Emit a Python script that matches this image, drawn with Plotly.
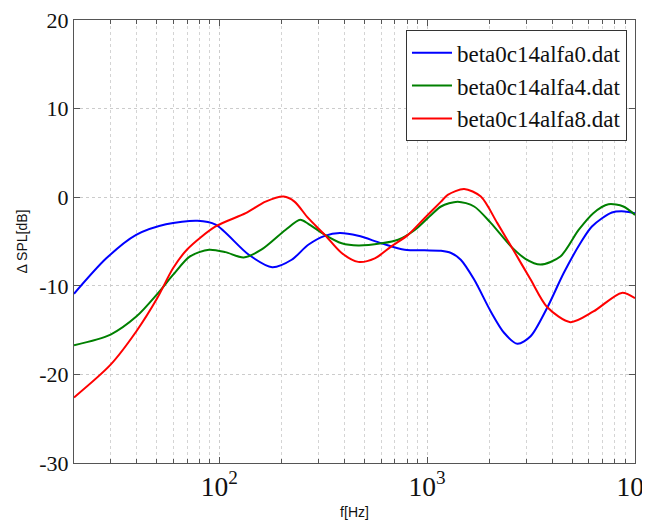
import plotly.graph_objects as go

freq_a0 = [20, 28.6, 39.8, 55.4, 78.5, 96, 138.7, 179.6, 223, 268, 322, 380, 466, 603, 780, 971, 1166, 1303, 1451, 1683, 2023, 2344, 2718, 3146, 3776, 4540, 5456, 6205, 7743, 8900, 10000]
spl_a0 = [-10.9, -6.9, -4.25, -3.05, -2.67, -3.1, -6.5, -7.9, -7.06, -5.37, -4.36, -4.05, -4.36, -5.2, -5.93, -6.0, -6.05, -6.3, -7.06, -9.3, -12.9, -15.3, -16.55, -15.7, -12.5, -8.56, -5.2, -3.3, -1.73, -1.6, -1.8]

freq_a4 = [20, 30, 40, 50, 60, 72, 89.3, 107, 131, 160, 208, 245, 268, 322, 388, 466, 603, 725, 872, 1045, 1166, 1402, 1683, 2023, 2530, 2970, 3510, 4375, 5355, 6300, 7450, 8790, 10000]
spl_a4 = [-16.7, -15.5, -13.45, -11.0, -8.75, -6.7, -5.93, -6.2, -6.8, -5.9, -3.7, -2.55, -3.0, -4.25, -5.2, -5.45, -5.2, -4.8, -3.7, -2.0, -1.05, -0.5, -1.05, -2.9, -5.55, -6.95, -7.6, -6.7, -3.7, -1.8, -0.8, -1.05, -2.0]

freq_a8 = [20, 30, 40, 50, 60, 70, 96, 134, 167, 204, 230, 268, 322, 388, 466, 560, 673, 809, 971, 1166, 1256, 1506, 1813, 2173, 2620, 3146, 3776, 4890, 6310, 8630, 10000]
spl_a8 = [-22.6, -18.9, -15.1, -11.5, -8.0, -5.9, -3.3, -1.8, -0.5, 0.07, -0.5, -2.37, -4.25, -6.3, -7.3, -6.9, -5.55, -4.25, -2.37, -0.5, 0.26, 0.93, 0.07, -2.9, -6.1, -9.3, -12.4, -14.1, -12.9, -10.8, -11.4]

names = ["beta0c14alfa0.dat", "beta0c14alfa4.dat", "beta0c14alfa8.dat"]
colors = ["#0000FF", "#008000", "#FF0000"]

y_ticks = [-30, -20, -10, 0, 10, 20]
y_ticktext = ["-30", "-20", "-10", "0", "10", "20"]

fig = go.Figure()
for fx, sy, nm, c in zip([freq_a0, freq_a4, freq_a8], [spl_a0, spl_a4, spl_a8], names, colors):
    fig.add_trace(go.Scatter(x=fx, y=sy, mode="lines", name=nm,
                             line=dict(color=c, width=2, shape="spline", smoothing=0.8)))

serif = "Liberation Serif"
# page body has an 8px default margin, so the figure is 8px smaller on each axis
fig.update_layout(
    width=642, height=516,
    margin=dict(l=66, r=15, t=12, b=61, autoexpand=False),
    paper_bgcolor="white", plot_bgcolor="white",
    font=dict(family=serif, size=22, color="#111111"),
    showlegend=True,
    legend=dict(x=0.9857, y=0.977, xanchor="right", yanchor="top",
                bgcolor="white", bordercolor="#333333", borderwidth=1,
                font=dict(family=serif, size=23), tracegroupgap=0,
                itemwidth=40),
)
fig.update_xaxes(
    type="log", range=[1.301, 4], dtick=1, exponentformat="power",
    automargin=False, ticklabeloverflow="allow",
    showline=True, linecolor="#555555", linewidth=1, mirror="allticks",
    ticks="inside", ticklen=6, tickcolor="#555555",
    showgrid=True, gridcolor="#cccccc", griddash="dot", gridwidth=1,
    zeroline=False,
    minor=dict(ticks="inside", ticklen=4, tickcolor="#555555", showgrid=True,
               gridcolor="#d4d4d4", griddash="dot", gridwidth=1),
    tickfont=dict(family=serif, size=22),
    title=dict(text="f[Hz]", font=dict(family="Liberation Sans", size=14), standoff=6),
)
fig.update_yaxes(
    range=[-30, 20], tickvals=y_ticks, ticktext=y_ticktext,
    automargin=False, ticklabeloverflow="allow",
    showline=True, linecolor="#555555", linewidth=1, mirror="allticks",
    ticks="inside", ticklen=6, tickcolor="#555555",
    showgrid=True, gridcolor="#cccccc", griddash="dot", gridwidth=1,
    zeroline=False,
    tickfont=dict(family=serif, size=22),
    title=dict(text="Δ SPL[dB]", font=dict(family="Liberation Sans", size=14), standoff=8),
)
fig.write_html("out.html")
